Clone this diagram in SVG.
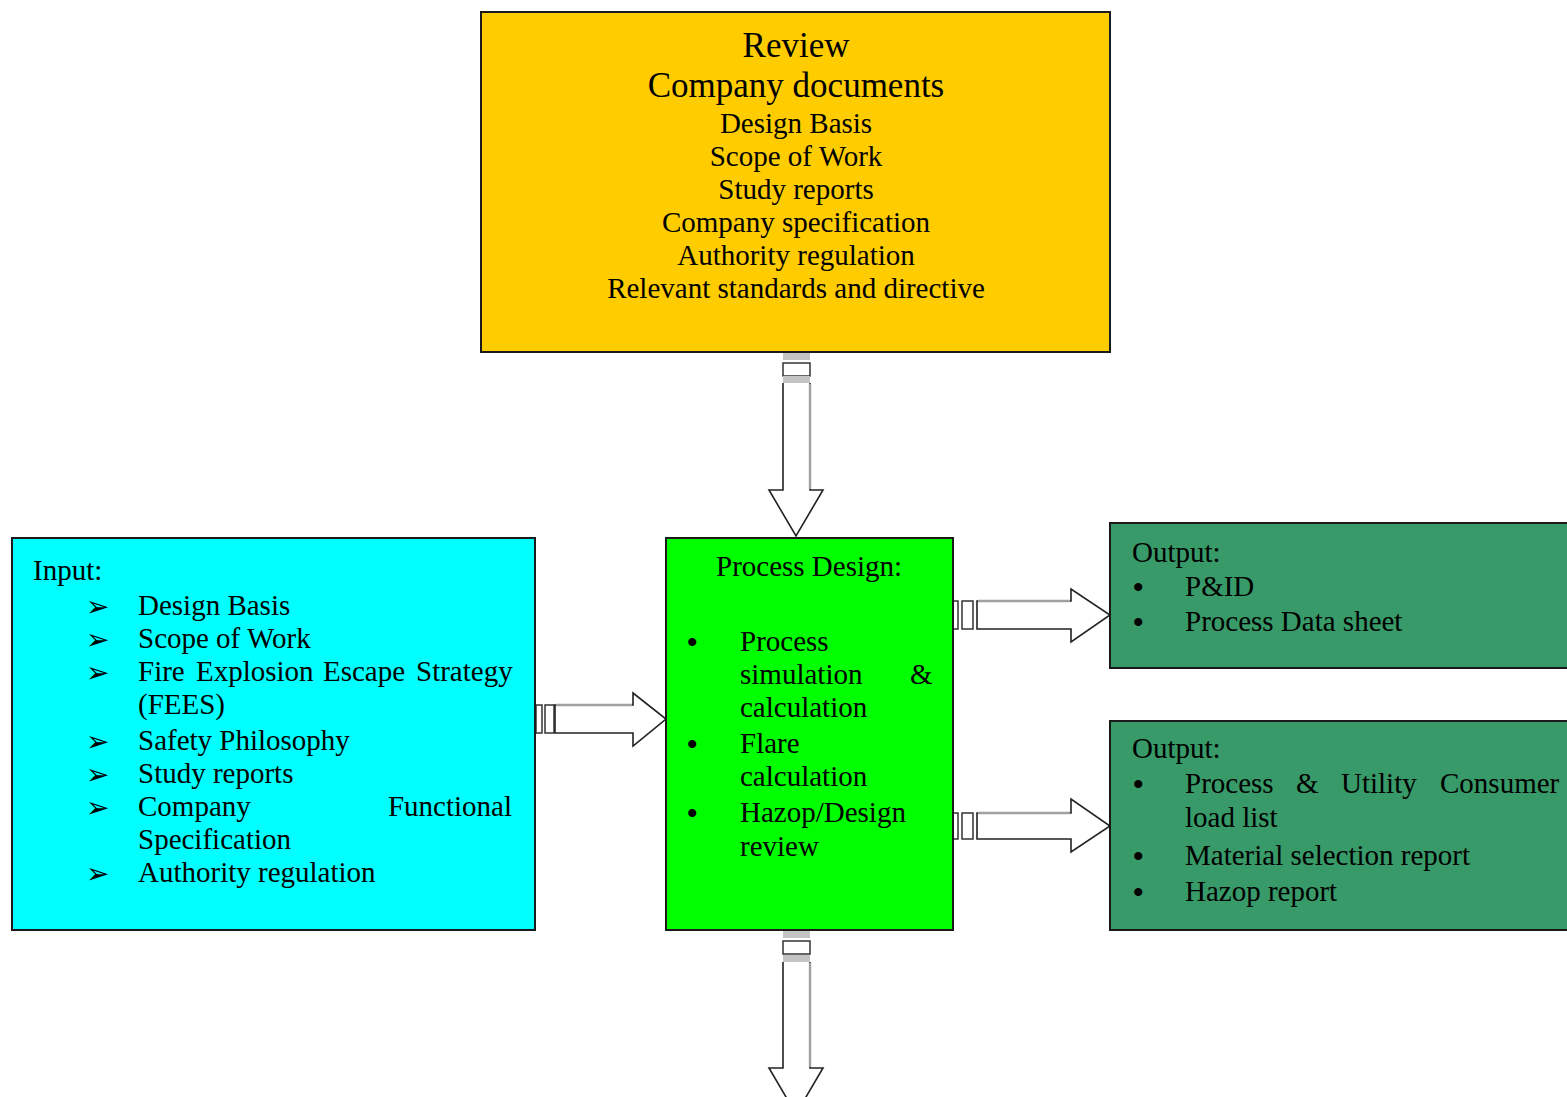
<svg xmlns="http://www.w3.org/2000/svg" width="1567" height="1097" viewBox="0 0 1567 1097">
<style>
.box{stroke:#1a1a1a;stroke-width:2}
.t{font-family:"Liberation Serif","Times New Roman",serif;font-size:29px;fill:#000}
.big{font-size:35px}
.c{text-anchor:middle}
.b{font-size:30px;font-weight:bold}
.ar{font-family:"DejaVu Sans",sans-serif;font-size:28px;fill:#000}
.shaft{fill:#fff;stroke:#222;stroke-width:1.6;stroke-linejoin:miter}
.hl{stroke:#a0a0a0;stroke-width:2.4;fill:none}
.band{fill:#c4c4c4}
.tail{fill:#fff;stroke:#333;stroke-width:1.5}
</style>
<rect width="1567" height="1097" fill="#fff"/>

<g id="connectors">
  <g id="arrow-review-process">
    <rect class="band" x="783" y="353" width="27" height="7"/>
    <rect class="tail" x="783" y="363" width="27" height="13"/>
    <rect class="band" x="783" y="376" width="27" height="7"/>
    <path class="shaft" d="M783,383 L783,490 L769,490 L796,536 L823,490 L810,490 L810,383"/>
    <path class="hl" d="M810,384 L810,489"/>
  </g>
  <g id="arrow-process-down">
    <rect class="band" x="783" y="931" width="27" height="7"/>
    <rect class="tail" x="783" y="941" width="27" height="13"/>
    <rect class="band" x="783" y="955" width="27" height="7"/>
    <path class="shaft" d="M783,962 L783,1068 L769,1068 L796,1114 L823,1068 L810,1068 L810,962"/>
    <path class="hl" d="M810,963 L810,1067"/>
  </g>
  <g id="arrow-input-process">
    <rect class="tail" x="536" y="705" width="6" height="28"/>
    <rect class="tail" x="545" y="705" width="9" height="28"/>
    <path class="shaft" d="M555,705 L633,705 L633,693 L666,719 L633,746 L633,733 L555,733 Z"/>
    <path class="hl" d="M556,705 L632,705"/>
  </g>
  <g id="arrow-process-output1">
    <rect class="tail" x="953" y="601" width="5" height="28"/>
    <rect class="tail" x="962" y="601" width="11" height="28"/>
    <path class="shaft" d="M977,601 L1071,601 L1071,589 L1110,615 L1071,642 L1071,629 L977,629 Z"/>
    <path class="hl" d="M978,601 L1070,601"/>
  </g>
  <g id="arrow-process-output2">
    <rect class="tail" x="953" y="813" width="5" height="26"/>
    <rect class="tail" x="962" y="813" width="11" height="26"/>
    <path class="shaft" d="M977,813 L1071,813 L1071,799 L1110,826 L1071,852 L1071,839 L977,839 Z"/>
    <path class="hl" d="M978,813 L1070,813"/>
  </g>
</g>

<g id="review">
  <rect class="box" x="481" y="12" width="629" height="340" fill="#ffcc00"/>
  <text class="t big c" x="796" y="57">Review</text>
  <text class="t big c" x="796" y="97">Company documents</text>
  <text class="t c" x="796" y="133">Design Basis</text>
  <text class="t c" x="796" y="166">Scope of Work</text>
  <text class="t c" x="796" y="199">Study reports</text>
  <text class="t c" x="796" y="232">Company specification</text>
  <text class="t c" x="796" y="265">Authority regulation</text>
  <text class="t c" x="796" y="298">Relevant standards and directive</text>
</g>

<g id="input">
  <rect class="box" x="12" y="538" width="523" height="392" fill="#00ffff"/>
  <text class="t" x="33" y="580">Input:</text>
  <text class="ar" x="86" y="616">➢</text>
  <text class="t" x="138" y="615">Design Basis</text>
  <text class="ar" x="86" y="649">➢</text>
  <text class="t" x="138" y="648">Scope of Work</text>
  <text class="ar" x="86" y="682">➢</text>
  <text class="t" x="138" y="681">Fire</text>
  <text class="t" x="196" y="681">Explosion</text>
  <text class="t" x="323" y="681">Escape</text>
  <text class="t" x="416" y="681">Strategy</text>
  <text class="t" x="138" y="714">(FEES)</text>
  <text class="ar" x="86" y="751">➢</text>
  <text class="t" x="138" y="750">Safety Philosophy</text>
  <text class="ar" x="86" y="784">➢</text>
  <text class="t" x="138" y="783">Study reports</text>
  <text class="ar" x="86" y="817">➢</text>
  <text class="t" x="138" y="816">Company</text>
  <text class="t" x="512" y="816" text-anchor="end">Functional</text>
  <text class="t" x="138" y="849">Specification</text>
  <text class="ar" x="86" y="883">➢</text>
  <text class="t" x="138" y="882">Authority regulation</text>
</g>

<g id="process">
  <rect class="box" x="666" y="538" width="287" height="392" fill="#00ff00"/>
  <text class="t" x="716" y="576">Process Design:</text>
  <text class="t b" x="687" y="652">•</text>
  <text class="t" x="740" y="651">Process</text>
  <text class="t" x="740" y="684">simulation</text>
  <text class="t" x="910" y="684">&amp;</text>
  <text class="t" x="740" y="717">calculation</text>
  <text class="t b" x="687" y="754">•</text>
  <text class="t" x="740" y="753">Flare</text>
  <text class="t" x="740" y="786">calculation</text>
  <text class="t b" x="687" y="823">•</text>
  <text class="t" x="740" y="822">Hazop/Design</text>
  <text class="t" x="740" y="856">review</text>
</g>

<g id="output1">
  <rect class="box" x="1110" y="523" width="470" height="145" fill="#379a68"/>
  <text class="t" x="1132" y="562">Output:</text>
  <text class="t b" x="1133" y="597">•</text>
  <text class="t" x="1185" y="596">P&amp;ID</text>
  <text class="t b" x="1133" y="632">•</text>
  <text class="t" x="1185" y="631">Process Data sheet</text>
</g>

<g id="output2">
  <rect class="box" x="1110" y="721" width="470" height="209" fill="#379a68"/>
  <text class="t" x="1132" y="758">Output:</text>
  <text class="t b" x="1133" y="794">•</text>
  <text class="t" x="1185" y="793">Process</text>
  <text class="t" x="1296" y="793">&amp;</text>
  <text class="t" x="1341" y="793">Utility</text>
  <text class="t" x="1440" y="793">Consumer</text>
  <text class="t" x="1185" y="827">load list</text>
  <text class="t b" x="1133" y="866">•</text>
  <text class="t" x="1185" y="865">Material selection report</text>
  <text class="t b" x="1133" y="902">•</text>
  <text class="t" x="1185" y="901">Hazop report</text>
</g>
</svg>
